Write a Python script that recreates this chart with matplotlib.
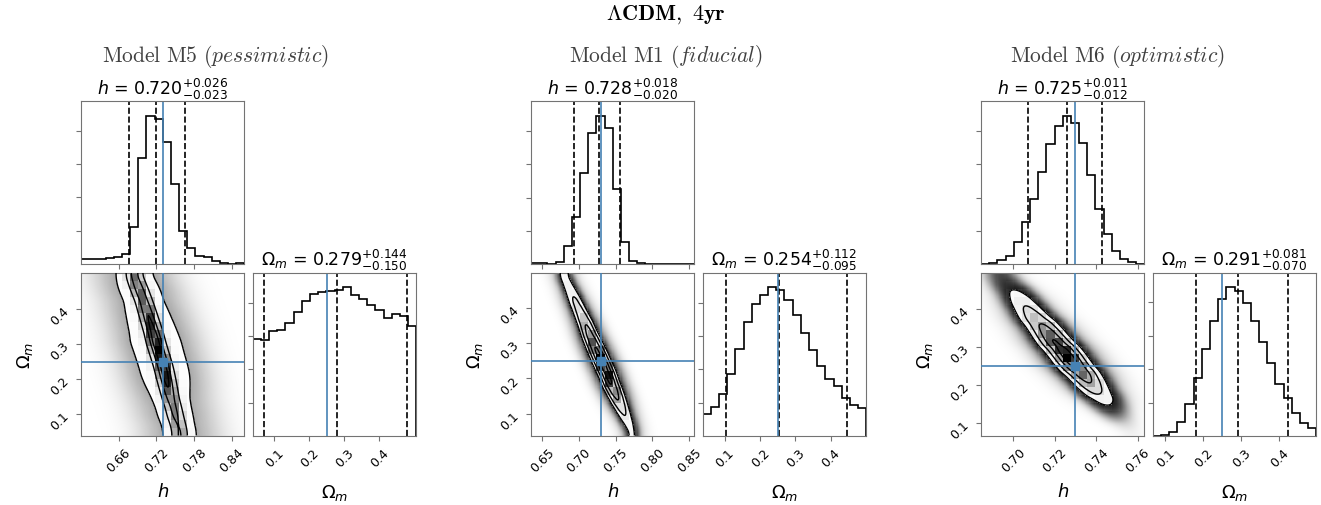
import numpy as np
import matplotlib
matplotlib.use("Agg")
import matplotlib.pyplot as plt
from matplotlib.colors import LinearSegmentedColormap
from matplotlib.ticker import MaxNLocator

# true values (blue lines)
truth_h = 0.73
truth_om = 0.25

model_names = ["M5", "M1", "M6"]
model_tags = ["pessimistic", "fiducial", "optimistic"]

# axis ranges
h_ranges = [(0.600, 0.860), (0.635, 0.857), (0.6845, 0.7632)]
om_ranges = [(0.038, 0.505), (0.037, 0.501), (0.067, 0.4965)]

h_ticks = [[0.66, 0.72, 0.78, 0.84], [0.65, 0.70, 0.75, 0.80, 0.85], [0.70, 0.72, 0.74, 0.76]]
h_tick_labels = [["0.66", "0.72", "0.78", "0.84"], ["0.65", "0.70", "0.75", "0.80", "0.85"],
                 ["0.70", "0.72", "0.74", "0.76"]]
om_ticks = [0.1, 0.2, 0.3, 0.4]
om_tick_labels = ["0.1", "0.2", "0.3", "0.4"]

# 1D marginal histograms, 20 bins over the axis range
h_counts_m5 = [16, 15, 16, 18, 22, 30, 112, 318, 445, 435, 365, 240, 98, 47, 25, 20, 10, 3, 0, 4]
h_counts_m1 = [2, 3, 1, 7, 55, 143, 273, 393, 447, 410, 227, 67, 8, 3, 0, 0, 0, 0, 0, 0]
h_counts_m6 = [0, 3, 12, 25, 65, 127, 197, 277, 362, 415, 447, 425, 365, 268, 165, 92, 40, 15, 5, 0]

om_counts_m5 = [292, 288, 317, 319, 339, 372, 405, 427, 432, 435, 438, 447, 425, 412, 395, 380, 355, 367, 360, 330]
om_counts_m1 = [65, 88, 127, 185, 263, 343, 398, 425, 447, 438, 410, 365, 310, 257, 210, 170, 150, 115, 93, 83]
om_counts_m6 = [1, 3, 13, 42, 95, 173, 260, 345, 410, 445, 435, 397, 343, 282, 217, 155, 115, 70, 40, 25]

# centre of the h-Omega_m degeneracy for each Omega_m bin (2D panel)
ridge_m5 = [0.757, 0.754, 0.750, 0.747, 0.743, 0.740, 0.737, 0.734, 0.731, 0.727,
            0.723, 0.719, 0.716, 0.712, 0.708, 0.704, 0.700, 0.695, 0.690, 0.685]
ridge_m1 = [0.772, 0.768, 0.763, 0.758, 0.753, 0.748, 0.743, 0.739, 0.734, 0.729,
            0.724, 0.719, 0.714, 0.710, 0.705, 0.700, 0.695, 0.690, 0.685, 0.680]
ridge_m6 = [0.757, 0.754, 0.750, 0.747, 0.744, 0.740, 0.737, 0.734, 0.730, 0.727,
            0.724, 0.720, 0.717, 0.714, 0.710, 0.707, 0.704, 0.701, 0.697, 0.694]

# width of the ridge (core, tail), tail share and how dark the sample cloud is
core_w = [0.0090, 0.0055, 0.0042]
tail_w = [0.040, 0.012, 0.0085]
tail_frac = [0.35, 0.22, 0.10]
cloud_k = [0.45, 2.2, 3.0]

# dashed quantile lines
h_quant = [[0.676, 0.720, 0.766], [0.694, 0.728, 0.756], [0.707, 0.7258, 0.743]]
om_quant = [[0.069, 0.279, 0.478], [0.102, 0.254, 0.446], [0.1805, 0.291, 0.4223]]

# title numbers (median, minus, plus)
h_title = [("0.720", "0.023", "0.026"), ("0.728", "0.020", "0.018"), ("0.725", "0.012", "0.011")]
om_title = [("0.279", "0.150", "0.144"), ("0.254", "0.095", "0.112"), ("0.291", "0.070", "0.081")]

h_counts = [h_counts_m5, h_counts_m1, h_counts_m6]
om_counts = [om_counts_m5, om_counts_m1, om_counts_m6]
ridges = [ridge_m5, ridge_m1, ridge_m6]

W, H = 1321, 506
SIZE = 163.4
GAP = 8.4
TOP = 101.7
x_lefts = [81, 531, 981]
title_x = [215, 666, 1117]
BLUE = "#4682b4"
FRAME = "0.45"

density_cmap = LinearSegmentedColormap.from_list("density_cmap", ["k", (1, 1, 1, 0)])


def px_axes(fig, left, top, w, h):
    return fig.add_axes([left / W, 1 - (top + h) / H, w / W, h / H])


def gauss(x, m, s):
    return np.exp(-0.5 * ((x - m) / s) ** 2) / s


def style(ax):
    for sp in ax.spines.values():
        sp.set_color(FRAME)
    ax.tick_params(color=FRAME, labelsize=9, length=3.5)


def density(k, nsub=10, nh=200):
    h0, h1 = h_ranges[k]
    o0, o1 = om_ranges[k]
    nb = len(om_counts[k])
    he = np.linspace(h0, h1, nh + 1)
    hc = 0.5 * (he[1:] + he[:-1])
    oe = np.linspace(o0, o1, nb * nsub + 1)
    oc = 0.5 * (oe[1:] + oe[:-1])
    rows = []
    for i in range(nb):
        prof = (1 - tail_frac[k]) * gauss(hc, ridges[k][i], core_w[k]) \
            + tail_frac[k] * gauss(hc, ridges[k][i], tail_w[k])
        for _ in range(nsub):
            rows.append(om_counts[k][i] * prof)
    D = np.array(rows)
    # smooth along Omega_m so the bins blend
    kern = np.exp(-0.5 * (np.arange(-15, 16) / 5.0) ** 2)
    kern /= kern.sum()
    pad = np.pad(D, ((15, 15), (0, 0)), mode="edge")
    D = np.apply_along_axis(lambda c: np.convolve(c, kern, mode="valid"), 0, pad)
    return hc, oc, D


fig = plt.figure(figsize=(W / 100, H / 100), dpi=100)

for k in range(3):
    x0 = x_lefts[k]
    ax_h = px_axes(fig, x0, TOP, SIZE, SIZE)
    ax_2d = px_axes(fig, x0, TOP + SIZE + GAP, SIZE, SIZE)
    ax_om = px_axes(fig, x0 + SIZE + GAP, TOP + SIZE + GAP, SIZE, SIZE)
    h0, h1 = h_ranges[k]
    o0, o1 = om_ranges[k]

    # top: h histogram
    edges = np.linspace(h0, h1, len(h_counts[k]) + 1)
    ax_h.stairs(h_counts[k], edges, color="k", lw=1.2)
    for q in h_quant[k]:
        ax_h.axvline(q, color="k", ls="--", lw=1.2)
    ax_h.axvline(truth_h, color=BLUE, lw=1.2)
    ax_h.set_xlim(h0, h1)
    ax_h.set_ylim(0, 1.1 * max(h_counts[k]))
    ax_h.set_xticks(h_ticks[k])
    ax_h.set_xticklabels([])
    ax_h.yaxis.set_major_locator(MaxNLocator(5, prune="lower"))
    ax_h.set_yticklabels([])
    m, lo, hi = h_title[k]
    ax_h.set_title(r"$h$ = ${%s}_{-%s}^{+%s}$" % (m, lo, hi), fontsize=12.5, pad=2)
    style(ax_h)

    # right: Omega_m histogram
    edges = np.linspace(o0, o1, len(om_counts[k]) + 1)
    ax_om.stairs(om_counts[k], edges, color="k", lw=1.2)
    for q in om_quant[k]:
        ax_om.axvline(q, color="k", ls="--", lw=1.2)
    ax_om.axvline(truth_om, color=BLUE, lw=1.2)
    ax_om.set_xlim(o0, o1)
    ax_om.set_ylim(0, 1.1 * max(om_counts[k]))
    ax_om.set_xticks(om_ticks)
    ax_om.set_xticklabels(om_tick_labels, rotation=45)
    ax_om.yaxis.set_major_locator(MaxNLocator(5, prune="lower"))
    ax_om.set_yticklabels([])
    m, lo, hi = om_title[k]
    ax_om.set_title(r"$\Omega_m$ = ${%s}_{-%s}^{+%s}$" % (m, lo, hi), fontsize=12.5, pad=2)
    ax_om.set_xlabel(r"$\Omega_m$", fontsize=13)
    ax_om.xaxis.set_label_coords(0.5, -0.28)
    style(ax_om)

    # 2D panel: sample cloud, white fill, density blocks, contours
    hc, oc, D = density(k)
    flat = np.sort(D.ravel())[::-1]
    cum = np.cumsum(flat)
    cum /= cum[-1]
    masses = 1.0 - np.exp(-0.5 * np.arange(0.5, 2.1, 0.5) ** 2)
    V = np.sort([flat[np.searchsorted(cum, mm)] for mm in masses])
    dark = 1 - np.exp(-cloud_k[k] * D / V[0])
    rgba = np.zeros(D.shape + (4,))
    rgba[..., 3] = dark
    ax_2d.imshow(rgba, extent=(h0, h1, o0, o1), origin="lower", aspect="auto",
                 interpolation="bilinear", zorder=0)
    ax_2d.contourf(hc, oc, D, [V[0], D.max() * 1.01], colors="white", zorder=1)
    nb = len(om_counts[k])
    Hc = D.reshape(nb, D.shape[0] // nb, 20, D.shape[1] // 20).sum(axis=(1, 3))
    ax_2d.pcolormesh(np.linspace(h0, h1, 21), np.linspace(o0, o1, nb + 1), Hc.max() - Hc,
                     cmap=density_cmap, zorder=2)
    ax_2d.contour(hc, oc, D, V, colors="k", linewidths=1.0, zorder=3)
    ax_2d.axvline(truth_h, color=BLUE, lw=1.2, zorder=4)
    ax_2d.axhline(truth_om, color=BLUE, lw=1.2, zorder=4)
    ax_2d.plot(truth_h, truth_om, "s", color=BLUE, ms=6, zorder=5)
    ax_2d.set_xlim(h0, h1)
    ax_2d.set_ylim(o0, o1)
    ax_2d.set_xticks(h_ticks[k])
    ax_2d.set_xticklabels(h_tick_labels[k], rotation=45)
    ax_2d.set_yticks(om_ticks)
    ax_2d.set_yticklabels(om_tick_labels, rotation=45)
    ax_2d.set_xlabel(r"$h$", fontsize=13)
    ax_2d.set_ylabel(r"$\Omega_m$", fontsize=13)
    ax_2d.xaxis.set_label_coords(0.5, -0.28)
    ax_2d.yaxis.set_label_coords(-0.28, 0.5)
    style(ax_2d)

    fig.text(title_x[k] / W, 1 - 56.7 / H,
             r"$\mathrm{Model\ %s}\ \mathit{(%s)}$" % (model_names[k], model_tags[k]),
             math_fontfamily="cm", fontsize=15.5, color="0.25", ha="center", va="center")

fig.text(666 / W, 1 - 15 / H, r"$\mathbf{\Lambda CDM,\ 4yr}$", math_fontfamily="cm",
         fontsize=16, ha="center", va="center")

fig.savefig("out.png", dpi=100)
